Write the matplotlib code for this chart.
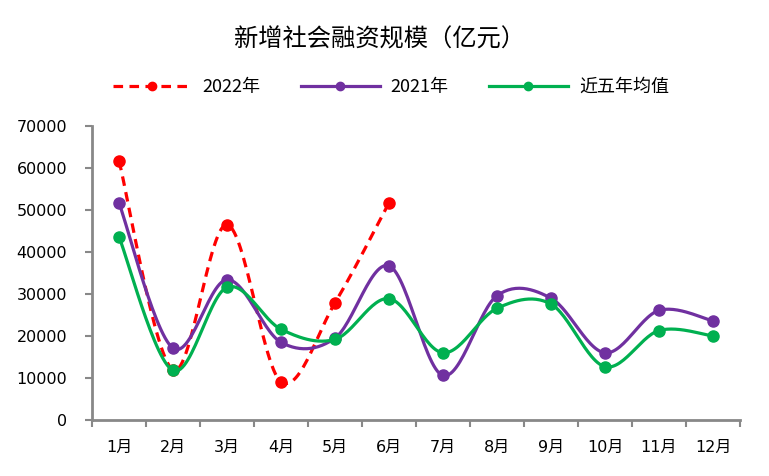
import numpy as np
import matplotlib
matplotlib.use("Agg")
import matplotlib.pyplot as plt
from matplotlib.lines import Line2D

plt.rcParams['font.family'] = ['Noto Sans CJK SC', 'DejaVu Sans']

months = ['1月', '2月', '3月', '4月', '5月', '6月', '7月', '8月', '9月', '10月', '11月', '12月']
y2022 = [61700, 11900, 46500, 9100, 27900, 51700]
y2021 = [51700, 17100, 33400, 18500, 19500, 36700, 10600, 29600, 29000, 16000, 26100, 23600]
avg5 = [43600, 11800, 31600, 21600, 19200, 28900, 16000, 26600, 27600, 12700, 21300, 20000]


def smooth(vals, n=30):
    # catmull-rom, roughly what excel's "smoothed line" does
    p = np.asarray(vals, dtype=float)
    x = np.arange(len(p), dtype=float)
    xs, ys = [], []
    for i in range(len(p) - 1):
        i0 = max(i - 1, 0)
        i3 = min(i + 2, len(p) - 1)
        t = np.linspace(0, 1, n)
        for arr, out in ((x, xs), (p, ys)):
            a0, a1, a2, a3 = arr[i0], arr[i], arr[i + 1], arr[i3]
            c1 = a1 + (a2 - a0) / 6
            c2 = a2 - (a3 - a1) / 6
            out.extend((1 - t) ** 3 * a1 + 3 * (1 - t) ** 2 * t * c1 + 3 * (1 - t) * t ** 2 * c2 + t ** 3 * a2)
    return np.array(xs), np.array(ys)


fig = plt.figure(figsize=(7.69, 4.76), dpi=100)
ax = fig.add_axes([92 / 769, (476 - 420) / 476, (740 - 92) / 769, (420 - 126) / 476])

series = [
    (y2022, '#FF0000', (0, (3, 2)), 2),
    (y2021, '#7030A0', '-', 4),
    (avg5, '#00B050', '-', 6),
]
for vals, col, ls, z in series:
    sx, sy = smooth(vals)
    ax.plot(sx, sy, color=col, lw=2.3, ls=ls, zorder=z)
    ax.plot(np.arange(len(vals)), vals, 'o', color=col, ms=8, zorder=z + 1)

num_font = ['DejaVu Sans', 'Noto Sans CJK SC']
ax.set_xlim(-0.5, 11.5)
ax.set_ylim(0, 70000)
ax.set_yticks(np.arange(0, 70001, 10000))
ax.set_yticklabels([str(v) for v in range(0, 70001, 10000)], fontsize=11.5, family=num_font)
ax.set_xticks(np.arange(-0.5, 11.6, 1))
ax.set_xticklabels([])
ax.set_xticks(np.arange(12), minor=True)
ax.set_xticklabels(months, minor=True, fontsize=11.5, family=num_font)
ax.tick_params(axis='x', which='minor', length=0, pad=14)
ax.tick_params(axis='x', which='major', length=5, width=1.5, color='#888888')
ax.tick_params(axis='y', length=5, width=1.5, color='#888888', pad=13)

for s in ('top', 'right'):
    ax.spines[s].set_visible(False)
for s in ('left', 'bottom'):
    ax.spines[s].set_color('#888888')
    ax.spines[s].set_linewidth(2)

fig.text(0.493, 1 - 40 / 476, '新增社会融资规模（亿元）', ha='center', va='center', fontsize=17.5)

handles = [
    Line2D([], [], color='#FF0000', lw=2.3, ls=(0, (3, 2)), marker='o', ms=6),
    Line2D([], [], color='#7030A0', lw=2.3, marker='o', ms=6),
    Line2D([], [], color='#00B050', lw=2.3, marker='o', ms=6),
]
fig.legend(handles, ['2022年', '2021年', '近五年均值'], loc='center', ncol=3,
           bbox_to_anchor=(0.508, 1 - 87 / 476), frameon=False, fontsize=13,
           handlelength=4.4, columnspacing=2.2, handletextpad=0.6)

fig.savefig('out.png', dpi=100)
